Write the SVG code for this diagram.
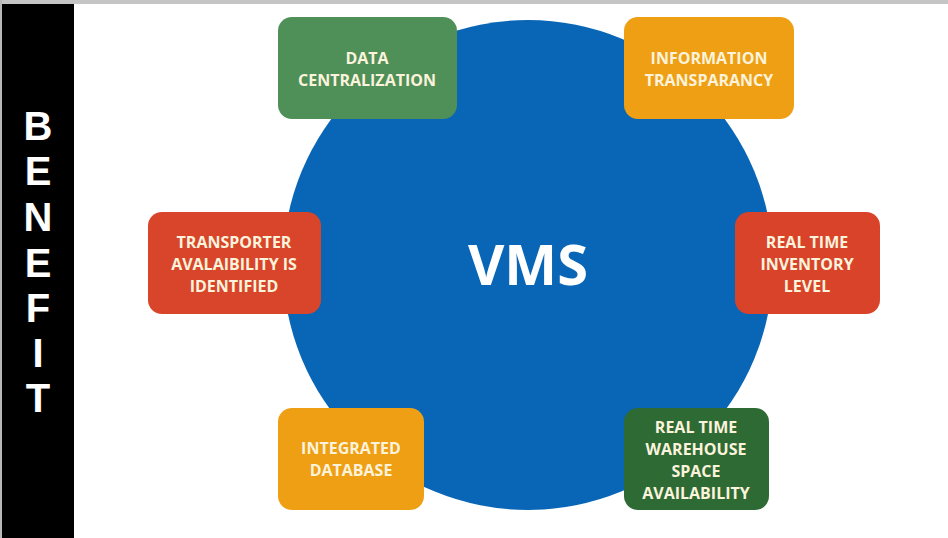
<svg xmlns="http://www.w3.org/2000/svg" width="948" height="538" viewBox="0 0 948 538">
<style>
.box text{font-family:"Open Sans","Liberation Sans",sans-serif;font-weight:700;font-size:16px;fill:#fbf3dc;text-anchor:middle}
.side{font-family:"Liberation Sans",Arial,sans-serif;font-weight:700;font-size:40px;fill:#ffffff;text-anchor:middle}
</style>
<rect x="0" y="0" width="948" height="538" fill="#ffffff"/>
<rect x="0" y="0" width="948" height="4" fill="#c4c4c4"/>
<rect x="0" y="0" width="2" height="538" fill="#b8b8b8"/>
<rect x="2" y="4" width="72" height="534" fill="#000000"/>
<g id="benefit">
<text class="side" x="38" y="140">B</text>
<text class="side" x="38" y="185">E</text>
<text class="side" x="38" y="231">N</text>
<text class="side" x="38" y="277">E</text>
<text class="side" x="38" y="322">F</text>
<text class="side" x="38" y="367">I</text>
<text class="side" x="38" y="412">T</text>
</g>
<g id="vms">
<circle cx="528" cy="265" r="245" fill="#0966b6"/>
<text x="528" y="285" font-family="Open Sans, Liberation Sans, sans-serif" font-weight="700" font-size="56" fill="#ffffff" text-anchor="middle">VMS</text>
</g>
<g id="data-centralization" class="box">
<rect x="278" y="17" width="179" height="102" rx="14" fill="#4f8f58"/>
<text x="367" y="64">DATA</text>
<text x="367" y="86">CENTRALIZATION</text>
</g>
<g id="information-transparancy" class="box">
<rect x="624" y="17" width="170" height="102" rx="14" fill="#ef9f13"/>
<text x="709" y="64">INFORMATION</text>
<text x="709" y="86">TRANSPARANCY</text>
</g>
<g id="transporter" class="box">
<rect x="148" y="212" width="173" height="102" rx="14" fill="#d8452a"/>
<text x="234" y="248">TRANSPORTER</text>
<text x="234" y="270">AVALAIBILITY IS</text>
<text x="234" y="292">IDENTIFIED</text>
</g>
<g id="inventory" class="box">
<rect x="735" y="212" width="145" height="102" rx="14" fill="#d8432a"/>
<text x="807" y="248">REAL TIME</text>
<text x="807" y="270">INVENTORY</text>
<text x="807" y="292">LEVEL</text>
</g>
<g id="integrated-database" class="box">
<rect x="278" y="408" width="146" height="102" rx="14" fill="#ef9f13"/>
<text x="351" y="454">INTEGRATED</text>
<text x="351" y="476">DATABASE</text>
</g>
<g id="warehouse" class="box">
<rect x="624" y="408" width="145" height="102" rx="14" fill="#2e6a34"/>
<text x="696" y="433">REAL TIME</text>
<text x="696" y="455">WAREHOUSE</text>
<text x="696" y="477">SPACE</text>
<text x="696" y="499">AVAILABILITY</text>
</g>
<g id="connectors"/>
</svg>
